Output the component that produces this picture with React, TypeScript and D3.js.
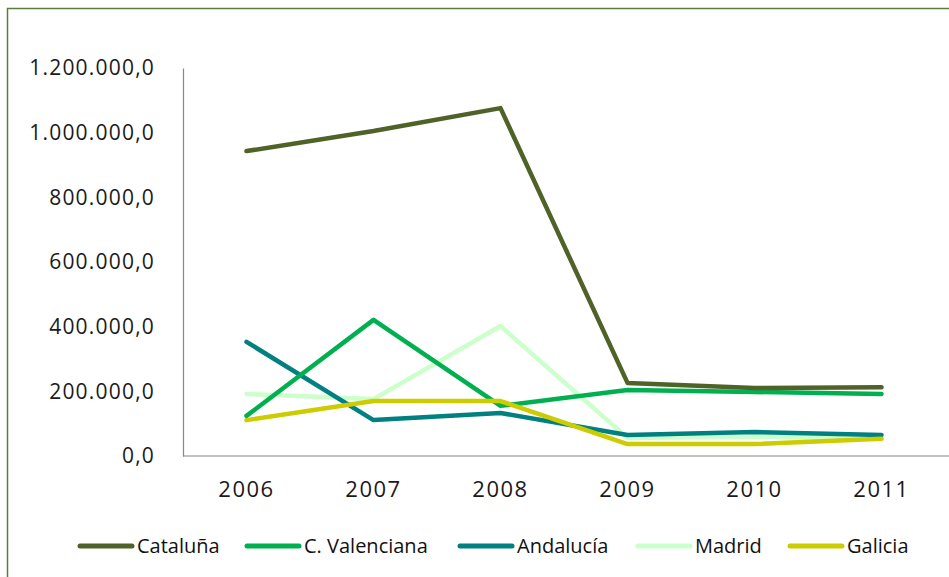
import React, { useRef, useEffect } from "react";
import * as d3 from "d3";

const years = ["2006", "2007", "2008", "2009", "2010", "2011"];
const yTicks = [0, 200000, 400000, 600000, 800000, 1000000, 1200000];

const cataluna = [943000, 1005000, 1076000, 226000, 210000, 213000];
const valenciana = [124000, 421000, 155000, 204000, 198000, 192000];
const andalucia = [353000, 111000, 133000, 65000, 74000, 65000];
const madrid = [192000, 176000, 402000, 56000, 60000, 53000];
const galicia = [111000, 170000, 170000, 37000, 37000, 53000];

const seriesNames = ["Cataluña", "C. Valenciana", "Andalucía", "Madrid", "Galicia"];
const seriesColors = ["#4f6228", "#00b050", "#008080", "#ccffcc", "#cccc00"];

function App() {
    const container = useRef<SVGSVGElement | null>(null);

    const W = 949, H = 577;
    const plot = { left: 183, right: 945, top: 68, bottom: 456 };

    useEffect(() => {
        const svg = d3.select(container.current);
        svg.selectAll("*").remove();

        const font = "'Open Sans', 'DejaVu Sans', sans-serif";
        const allSeries = [cataluna, valenciana, andalucia, madrid, galicia];

        // outer frame (right & bottom fall outside the picture)
        svg.append("rect")
            .attr("x", 7.5).attr("y", 8.5)
            .attr("width", 980).attr("height", 620)
            .attr("fill", "white")
            .attr("stroke", "#5e7d3c")
            .attr("stroke-width", 1.5);

        const x = d3.scaleBand()
            .domain(years)
            .range([plot.left, plot.right]);

        const y = d3.scaleLinear()
            .domain([0, 1200000])
            .range([plot.bottom, plot.top]);

        const locale = d3.formatLocale({ decimal: ",", thousands: ".", grouping: [3], currency: ["", "€"] });
        const fmt = locale.format(",.1f");

        // y axis
        const yAxis = svg.append("g")
            .attr("transform", "translate(" + plot.left + ",0)")
            .call(d3.axisLeft(y).tickValues(yTicks).tickSize(0).tickPadding(28).tickFormat((d) => fmt(d as number)));
        yAxis.select(".domain").attr("stroke", "#888888").attr("stroke-width", 1.2);
        yAxis.selectAll("text")
            .attr("fill", "#1a1a1a")
            .style("font-family", font)
            .style("font-size", "21px")
            .style("letter-spacing", "1.2px");

        // x axis
        const xAxis = svg.append("g")
            .attr("transform", "translate(0," + plot.bottom + ")")
            .call(d3.axisBottom(x).tickSize(0).tickPadding(25));
        xAxis.select(".domain").attr("stroke", "#888888").attr("stroke-width", 1.2)
            .attr("d", "M" + plot.left + ",0H" + W);
        xAxis.selectAll("text")
            .attr("fill", "#1a1a1a")
            .style("font-family", font)
            .style("font-size", "22px")
            .style("letter-spacing", "1.5px");

        const line = d3.line<number>()
            .x((d, i) => (x(years[i]) as number) + x.bandwidth() / 2)
            .y((d) => y(d));

        // draw from back to front so Cataluña ends on top like the original
        const order = [3, 2, 1, 4, 0];
        order.forEach((k) => {
            svg.append("path")
                .datum(allSeries[k])
                .attr("d", line)
                .attr("fill", "none")
                .attr("stroke", seriesColors[k])
                .attr("stroke-width", 4.5)
                .attr("stroke-linejoin", "round")
                .attr("stroke-linecap", "round");
        });

        // legend
        const legendX = [80, 247, 460, 638, 790];
        const legend = svg.append("g").attr("transform", "translate(0,546)");
        seriesNames.forEach((name, i) => {
            legend.append("line")
                .attr("x1", legendX[i]).attr("x2", legendX[i] + 52)
                .attr("y1", 0).attr("y2", 0)
                .attr("stroke", seriesColors[i])
                .attr("stroke-width", 5)
                .attr("stroke-linecap", "round");
            legend.append("text")
                .attr("x", legendX[i] + 57)
                .attr("y", 0)
                .attr("dy", "0.35em")
                .attr("fill", "#111")
                .style("font-family", font)
                .style("font-size", "20px")
                .text(name);
        });
    }, []);

    return (
        <svg ref={container} width={W} height={H}
            style={{ position: "absolute", left: 0, top: 0, background: "white" }} />
    );
}

export default App;
